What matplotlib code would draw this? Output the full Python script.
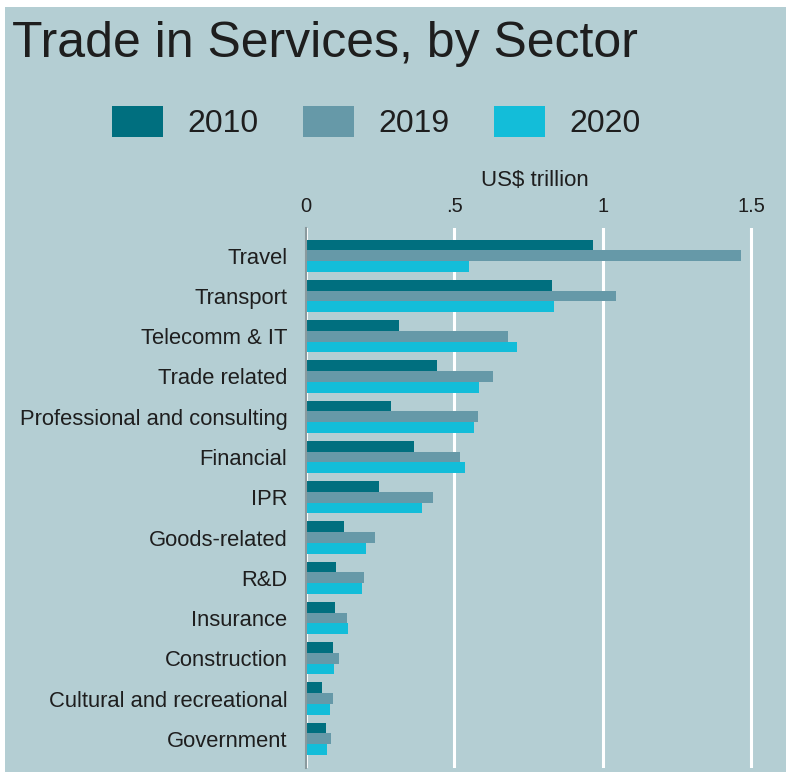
import numpy as np
import matplotlib
matplotlib.use("Agg")
import matplotlib.pyplot as plt
from matplotlib.patches import Patch, Rectangle

plt.rcParams.update({"font.family": ["Liberation Sans", "DejaVu Sans"], "text.color": "#1e1e1e"})

# 数据（单位：万亿美元）
sectors = ["Travel", "Transport", "Telecomm & IT", "Trade related",
           "Professional and consulting", "Financial", "IPR", "Goods-related",
           "R&D", "Insurance", "Construction", "Cultural and recreational", "Government"]
years = ["2010", "2019", "2020"]
vals_2010 = [0.966, 0.830, 0.313, 0.440, 0.286, 0.364, 0.245, 0.129, 0.100, 0.097, 0.092, 0.055, 0.066]
vals_2019 = [1.466, 1.044, 0.682, 0.631, 0.581, 0.520, 0.427, 0.231, 0.197, 0.137, 0.110, 0.092, 0.083]
vals_2020 = [0.550, 0.836, 0.712, 0.584, 0.567, 0.537, 0.392, 0.201, 0.190, 0.143, 0.093, 0.080, 0.071]
xticks = [0, 0.5, 1, 1.5]
xtick_labels = ["0", ".5", "1", "1.5"]

colors = ["#006f7f", "#6699a8", "#13bdd9"]
bg = "#b4ced3"

W, H = 786, 772
fig = plt.figure(figsize=(W / 100, H / 100), dpi=100, facecolor="white")
# 背景色块（左侧和顶部留白）
fig.add_artist(Rectangle((5 / W, -0.05), 1.1, (H - 7) / H + 0.05, transform=fig.transFigure,
                         facecolor=bg, edgecolor="none", zorder=-10))

ax = fig.add_axes([306 / W, 4 / H, 480 / W, 540 / H])
ax.set_facecolor("none")

y = np.arange(len(sectors))
h = 0.266
for i, (vals, c) in enumerate(zip([vals_2010, vals_2019, vals_2020], colors)):
    ax.barh(y + (i - 1) * h, vals, height=h, color=c, zorder=3)

ax.set_xlim(0, 480 / 296.7)
ax.set_ylim(len(sectors) - 1 + 0.725, -0.688)

ax.xaxis.tick_top()
ax.set_xticks(xticks)
ax.set_xticklabels(xtick_labels)
ax.set_yticks(y)
ax.set_yticklabels(sectors)
ax.tick_params(axis="x", length=0, pad=8.5, labelsize=14.5, colors="#1e1e1e")
ax.tick_params(axis="y", length=0, pad=13.5, labelsize=15.8, colors="#1e1e1e")

ax.grid(axis="x", color="white", linewidth=2.2, zorder=1)
ax.grid(axis="y", visible=False)
for s in ["top", "right", "bottom"]:
    ax.spines[s].set_visible(False)
ax.spines["left"].set_color("#8a9a9e")
ax.spines["left"].set_linewidth(1.5)
ax.spines["left"].set_zorder(4)

ax.text(0.77, 1 + 42 / 540, "US$ trillion", transform=ax.get_xaxis_transform(),
        ha="center", va="baseline", fontsize=16)

fig.text(12 / W, (H - 57) / H, "Trade in Services, by Sector", fontsize=36,
         ha="left", va="baseline")

handles = [Patch(facecolor=c, edgecolor="none") for c in colors]
fig.legend(handles, years, loc="center left", bbox_to_anchor=(112 / W, (H - 122.5) / H),
           ncol=3, frameon=False, fontsize=23, borderpad=0, borderaxespad=0,
           handlelength=1.6, handleheight=1.1, handletextpad=0.75, columnspacing=1.4)

plt.savefig("out.png", dpi=100, facecolor="white")
